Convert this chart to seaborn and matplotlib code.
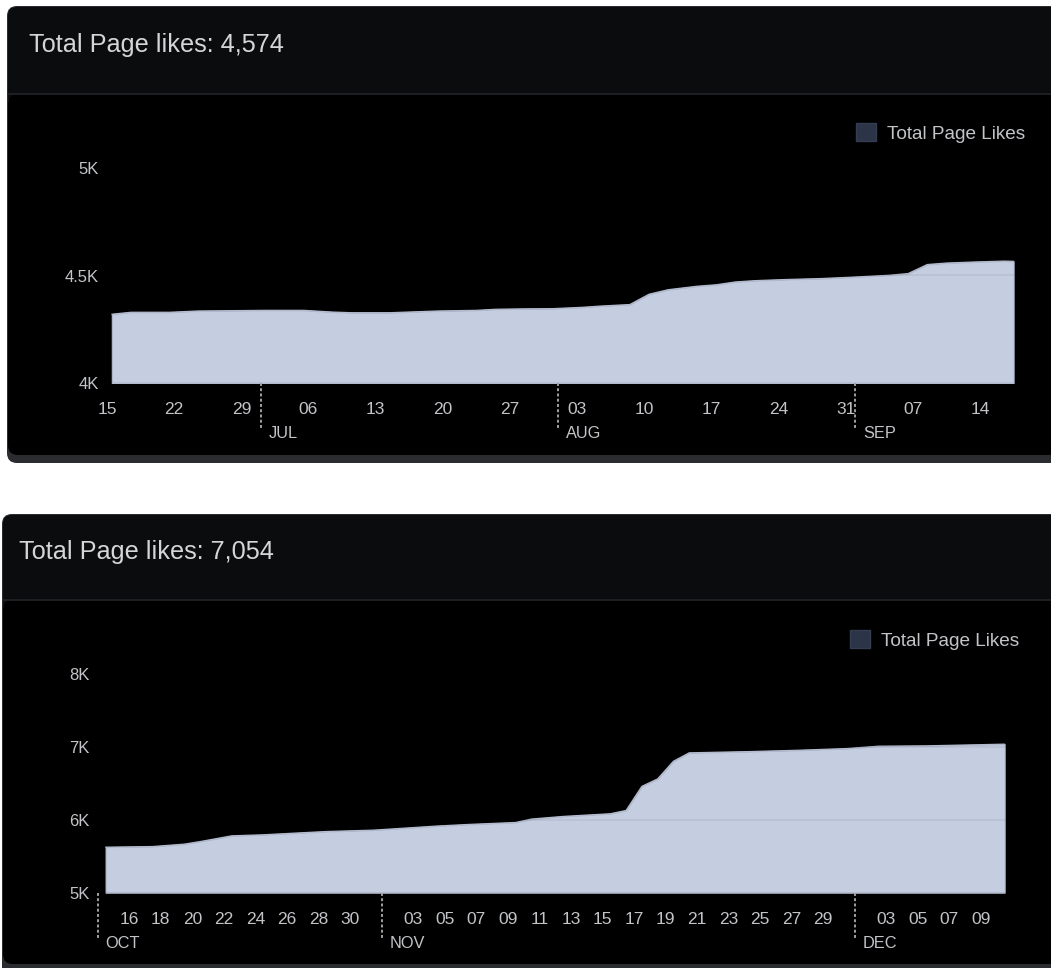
import matplotlib
matplotlib.use('Agg')
import matplotlib.pyplot as plt
import matplotlib.dates as mdates
import matplotlib.transforms as mtransforms
from matplotlib.patches import FancyBboxPatch, Patch
import seaborn as sns
import pandas as pd

sns.set_style('dark')
plt.rcParams['font.family'] = ['Liberation Sans', 'DejaVu Sans']

# first screenshot: Jun - Sep
title_1 = 'Total Page likes: 4,574'
dates_1 = ['2023-06-15', '2023-06-17', '2023-06-21', '2023-06-24', '2023-07-01', '2023-07-05',
           '2023-07-08', '2023-07-10', '2023-07-14', '2023-07-19', '2023-07-23', '2023-07-25',
           '2023-07-28', '2023-07-31', '2023-08-03', '2023-08-05', '2023-08-08', '2023-08-10',
           '2023-08-12', '2023-08-15', '2023-08-17', '2023-08-19', '2023-08-21', '2023-08-24',
           '2023-08-28', '2023-08-31', '2023-09-04', '2023-09-06', '2023-09-08', '2023-09-10',
           '2023-09-13', '2023-09-16', '2023-09-17']
likes_1 = [4320, 4329, 4329, 4335, 4338, 4338,
           4330, 4327, 4327, 4335, 4338, 4343,
           4345, 4346, 4352, 4358, 4365, 4413,
           4434, 4450, 4457, 4470, 4476, 4481,
           4486, 4492, 4501, 4509, 4551, 4558,
           4563, 4567, 4566]
day_ticks_1 = ['2023-06-15', '2023-06-22', '2023-06-29', '2023-07-06', '2023-07-13', '2023-07-20',
               '2023-07-27', '2023-08-03', '2023-08-10', '2023-08-17', '2023-08-24', '2023-08-31',
               '2023-09-07', '2023-09-14']
day_labels_1 = ['15', '22', '29', '06', '13', '20', '27', '03', '10', '17', '24', '31', '07', '14']
month_ticks_1 = ['2023-07-01', '2023-08-01', '2023-09-01']
month_labels_1 = ['JUL', 'AUG', 'SEP']
y_ticks_1 = [4000, 4500, 5000]
y_labels_1 = ['4K', '4.5K', '5K']

# second screenshot: Oct - Dec
title_2 = 'Total Page likes: 7,054'
dates_2 = ['2023-10-14', '2023-10-17', '2023-10-19', '2023-10-20', '2023-10-22', '2023-10-24',
           '2023-10-26', '2023-10-28', '2023-10-31', '2023-11-02', '2023-11-04', '2023-11-06',
           '2023-11-09', '2023-11-10', '2023-11-12', '2023-11-15', '2023-11-16', '2023-11-17',
           '2023-11-18', '2023-11-19', '2023-11-20', '2023-11-24', '2023-11-27', '2023-11-30',
           '2023-12-02', '2023-12-05', '2023-12-07', '2023-12-10']
likes_2 = [5625, 5634, 5667, 5702, 5781, 5795,
           5818, 5840, 5859, 5887, 5915, 5937,
           5964, 6011, 6047, 6084, 6129, 6460,
           6562, 6804, 6920, 6938, 6956, 6979,
           7011, 7016, 7025, 7039]
day_ticks_2 = ['2023-10-16', '2023-10-18', '2023-10-20', '2023-10-22', '2023-10-24', '2023-10-26',
               '2023-10-28', '2023-10-30', '2023-11-03', '2023-11-05', '2023-11-07', '2023-11-09',
               '2023-11-11', '2023-11-13', '2023-11-15', '2023-11-17', '2023-11-19', '2023-11-21',
               '2023-11-23', '2023-11-25', '2023-11-27', '2023-11-29', '2023-12-03', '2023-12-05',
               '2023-12-07', '2023-12-09']
day_labels_2 = ['16', '18', '20', '22', '24', '26', '28', '30', '03', '05', '07', '09', '11', '13',
                '15', '17', '19', '21', '23', '25', '27', '29', '03', '05', '07', '09']
month_ticks_2 = ['2023-10-14', '2023-11-01', '2023-12-01']
month_labels_2 = ['OCT', 'NOV', 'DEC']
y_ticks_2 = [5000, 6000, 7000, 8000]
y_labels_2 = ['5K', '6K', '7K', '8K']

FILL = '#c5cde0'
EDGE = '#b3bbce'
TXT = '#c2c4c8'
W, H = 1051, 968

fig = plt.figure(figsize=(W / 100, H / 100), dpi=100)
bg = fig.add_axes([0, 0, 1, 1])
bg.set_xlim(0, W)
bg.set_ylim(H, 0)
bg.axis('off')


def card(x, y0, y_sep, y_body_end, y_end):
    bg.add_patch(FancyBboxPatch((x, y0), W + 30 - x, y_end - y0, boxstyle='round,pad=0,rounding_size=10',
                                fc='#2b2c30', ec='none'))
    bg.add_patch(FancyBboxPatch((x + 1, y0 + 1), W + 30 - x, y_sep - y0 + 12, boxstyle='round,pad=0,rounding_size=9',
                                fc='#0b0c0e', ec='none'))
    bg.add_patch(FancyBboxPatch((x + 1, y_sep + 1), W + 30 - x, y_body_end - y_sep - 1,
                                boxstyle='round,pad=0,rounding_size=10', fc='black', ec='none'))
    bg.plot([x + 1, W], [y_sep + 0.5] * 2, color='#222327', lw=1.2)


def draw_chart(box, dates, likes, title, title_xy, ylim, y_ticks, y_labels, day_ticks, day_labels,
               month_ticks, month_labels, x_end, legend_xy):
    left, top, right, bottom = box
    bg.text(title_xy[0], title_xy[1], title, fontsize=18.2, color='#d6d6d6', va='center', ha='left')

    ax = fig.add_axes([left / W, 1 - bottom / H, (right - left) / W, (bottom - top) / H])
    ax.set_facecolor('none')
    df = pd.DataFrame({'date': pd.to_datetime(dates) + pd.Timedelta(hours=12), 'likes': likes})
    ax.fill_between(df['date'], df['likes'], ylim[0], facecolor=FILL, edgecolor=EDGE, lw=0.8, zorder=2)
    sns.lineplot(data=df, x='date', y='likes', ax=ax, color=EDGE, lw=0.9, zorder=3)
    for y in y_ticks:
        ax.axhline(y, color='black', alpha=0.06, lw=1.2, zorder=4)

    ax.set_xlim(pd.Timestamp(dates[0]), pd.Timestamp(x_end))
    ax.set_ylim(*ylim)
    ax.set_xlabel('')
    ax.set_ylabel('')
    for s in ax.spines.values():
        s.set_visible(False)

    ax.set_yticks(y_ticks)
    ax.set_yticklabels(y_labels)
    ax.tick_params(axis='y', length=0, pad=6, labelsize=12, labelcolor=TXT)
    ax.set_xticks(pd.to_datetime(day_ticks + [x_end]))
    ax.set_xticklabels(day_labels + [''])
    ax.tick_params(axis='x', length=6, width=1.4, color='#9a9ea8', pad=8, labelsize=12.5, labelcolor=TXT)

    trans = mtransforms.blended_transform_factory(ax.transData, ax.transAxes)
    dash = 45 / (bottom - top)
    for d, lab in zip(month_ticks, month_labels):
        d = mdates.date2num(pd.Timestamp(d))
        ax.plot([d, d], [0, -dash], transform=trans, color='#a0a0a0', lw=1.4, ls=(0, (1.5, 1.2)),
                clip_on=False)
        ax.annotate(lab, xy=(d, 0), xycoords=trans, xytext=(8, -51), textcoords='offset pixels',
                    ha='left', va='center', fontsize=11.8, color=TXT)

    ax.legend(handles=[Patch(facecolor='#2c3447', edgecolor='#353d50', label='Total Page Likes')],
              loc='center right', bbox_to_anchor=(legend_xy[0] / W, 1 - legend_xy[1] / H),
              bbox_transform=fig.transFigure, frameon=False, fontsize=13.7, handlelength=1.05,
              handleheight=1.05, handletextpad=0.55, borderpad=0, borderaxespad=0, labelcolor=TXT)
    return ax


card(7, 6, 93, 455, 463)
card(2, 514, 599, 964, 990)

draw_chart((107, 125, 1028, 383), dates_1, likes_1, title_1, (29, 45), (4000, 5200),
           y_ticks_1, y_labels_1, day_ticks_1, day_labels_1, month_ticks_1, month_labels_1,
           '2023-09-19', (1025, 133))
draw_chart((97.7, 645, 1028.3, 892.7), dates_2, likes_2, title_2, (19, 552), (5000, 8400),
           y_ticks_2, y_labels_2, day_ticks_2, day_labels_2, month_ticks_2, month_labels_2,
           '2023-12-12', (1019, 640))

fig.savefig('out.png', dpi=100, facecolor='white')
